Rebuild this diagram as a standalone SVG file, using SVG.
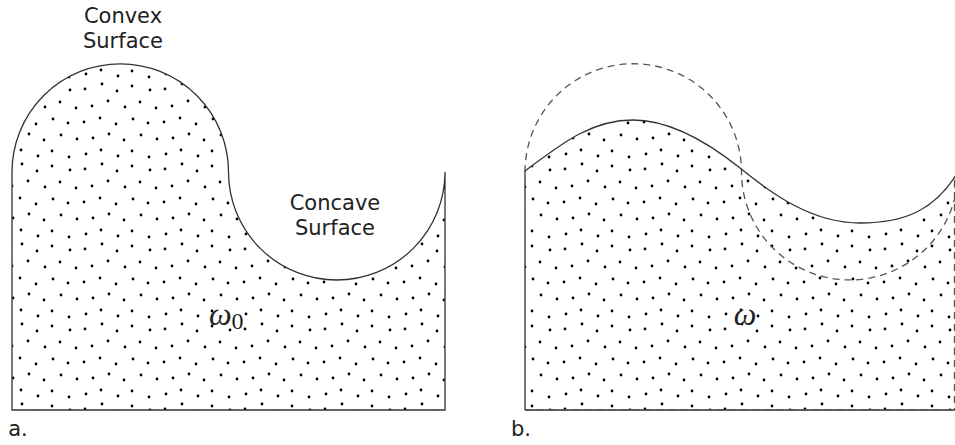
<svg xmlns="http://www.w3.org/2000/svg" width="955" height="445" viewBox="0 0 955 445">
<style>
.lbl{font-family:"DejaVu Sans","Liberation Sans",sans-serif;font-size:21px;fill:#222;text-anchor:middle}
.math{font-family:"Liberation Serif","DejaVu Serif",serif;font-style:italic;fill:#222}
.edge{fill:none;stroke:#333;stroke-width:1.3}
.dash{fill:none;stroke:#555;stroke-width:1.3;stroke-dasharray:7 5}
</style>
<defs>
<pattern id="dots" patternUnits="userSpaceOnUse" width="80" height="80">
<g fill="#000">
<circle cx="5" cy="9" r="1.4"/><circle cx="22" cy="4" r="1.4"/><circle cx="37" cy="11" r="1.4"/><circle cx="52" cy="6" r="1.4"/><circle cx="70" cy="10" r="1.4"/>
<circle cx="12" cy="26" r="1.4"/><circle cx="28" cy="21" r="1.4"/><circle cx="45" cy="27" r="1.4"/><circle cx="60" cy="22" r="1.4"/><circle cx="76" cy="28" r="1.4"/>
<circle cx="4" cy="42" r="1.4"/><circle cx="20" cy="38" r="1.4"/><circle cx="36" cy="44" r="1.4"/><circle cx="53" cy="39" r="1.4"/><circle cx="68" cy="43" r="1.4"/>
<circle cx="13" cy="58" r="1.4"/><circle cx="29" cy="54" r="1.4"/><circle cx="44" cy="60" r="1.4"/><circle cx="61" cy="55" r="1.4"/><circle cx="77" cy="59" r="1.4"/>
<circle cx="6" cy="74" r="1.4"/><circle cx="21" cy="70" r="1.4"/><circle cx="38" cy="76" r="1.4"/><circle cx="52" cy="71" r="1.4"/><circle cx="69" cy="77" r="1.4"/>
</g>
</pattern>
</defs>
<g id="panel-a">
<path d="M12,410 L12,172 A108,108 0 0 1 228.5,172 A108.25,108 0 0 0 445,172 L445,410 Z" fill="url(#dots)" stroke="#333" stroke-width="1.3"/>
<text class="lbl" x="123" y="23">Convex</text>
<text class="lbl" x="123" y="48">Surface</text>
<text class="lbl" x="335" y="210">Concave</text>
<text class="lbl" x="335" y="235">Surface</text>
<text class="math" x="209" y="325" font-size="32">ω<tspan font-style="normal" font-size="24" dy="4">0</tspan></text>
<text class="lbl" x="18" y="436">a.</text>
</g>
<g id="panel-b">
<path d="M525,410 L525,171 C560,145 590,120 633,120 C675,120 715,148 740,168 C772,194 812,223 860,223 C905,223 935,210 958,172 L958,410 Z" fill="url(#dots)" stroke="none"/>
<path class="dash" d="M525,172 A108,108 0 0 1 741.5,172 A108.25,108 0 0 0 958,172"/>
<path class="edge" d="M525,410 L525,171 C560,145 590,120 633,120 C675,120 715,148 740,168 C772,194 812,223 860,223 C905,223 935,210 958,172"/>
<path class="edge" d="M525,410 L955,410"/>
<path class="dash" d="M525,410 L955,410 M954.5,180 L954.5,410"/>
<text class="math" x="745" y="325" font-size="32" text-anchor="middle">ω</text>
<text class="lbl" x="521" y="436">b.</text>
</g>
</svg>
